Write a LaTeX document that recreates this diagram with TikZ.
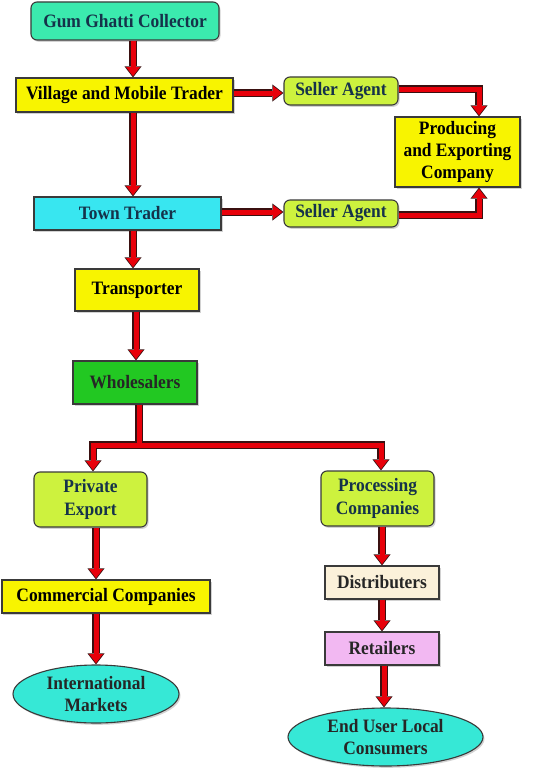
\documentclass[tikz,border=0pt]{standalone}
\usepackage{fontspec}
\setmainfont{Liberation Serif}[FakeStretch=0.92]
\usetikzlibrary{arrows.meta,shapes.geometric,shadows}
\definecolor{mint}{HTML}{3BEAAE}
\definecolor{yel}{HTML}{F8F400}
\definecolor{lime}{HTML}{CDF23E}
\definecolor{cyanbox}{HTML}{38E6F0}
\definecolor{grn}{HTML}{22C822}
\definecolor{cream}{HTML}{FBF1DA}
\definecolor{pinkbox}{HTML}{F2B8F2}
\definecolor{ellc}{HTML}{36E8D6}
\definecolor{navytext}{HTML}{15324A}
\definecolor{bordc}{HTML}{3A3A3A}
\definecolor{arrowred}{HTML}{E8000A}
\definecolor{arrowdark}{HTML}{3A1010}
\newcommand\flowarr[1]{\draw[outl] #1; \draw[inn] #1;}
\begin{document}
\begin{tikzpicture}[x=1bp,y=-1bp,
  box/.style={draw=bordc, line width=1.1bp, inner sep=0pt, align=center,
    font=\bfseries\fontsize{19}{22.5}\selectfont,
    drop shadow={opacity=0.35, shadow xshift=1.5bp, shadow yshift=-1.8bp}},
  rbox/.style={box, rounded corners=6bp},
  ellbox/.style={box, ellipse},
  outl/.style={draw=arrowdark, line width=7.2bp, line join=miter,
    -{Triangle[length=11bp,width=17bp,line width=0pt]}},
  inn/.style={draw=arrowred, line width=5bp, line join=miter, shorten >=1.3bp,
    -{Triangle[length=9bp,width=13.8bp,line width=0pt]}}]
\useasboundingbox (0,0) rectangle (536,770);
\fill[white] (0,0) rectangle (536,770);

\node[rbox, fill=mint, text=navytext, minimum width=188bp, minimum height=38bp] (gum) at (125,21) {Gum Ghatti Collector};
\node[box, fill=yel, text=black, minimum width=217bp, minimum height=34bp] (village) at (124.5,95) {Village and Mobile Trader};
\node[rbox, fill=lime, text=navytext, minimum width=114bp, minimum height=28bp] (sa1) at (341,91) {Seller Agent};
\node[box, fill=yel, text=black, minimum width=125bp, minimum height=70bp] (prod) at (457.5,152) {Producing\\and Exporting\\Company};
\node[box, fill=cyanbox, text=navytext, minimum width=187bp, minimum height=33bp] (town) at (127.5,213.5) {Town Trader};
\node[rbox, fill=lime, text=navytext, minimum width=114bp, minimum height=27bp] (sa2) at (341,213.5) {Seller Agent};
\node[box, fill=yel, text=black, minimum width=124bp, minimum height=42bp] (trans) at (137,290) {Transporter};
\node[box, fill=grn, text=black!85, minimum width=124bp, minimum height=43bp] (whole) at (135,382.5) {Wholesalers};
\node[rbox, fill=lime, text=navytext, minimum width=113bp, minimum height=55bp] (pe) at (90.5,499.5) {Private\\Export};
\node[rbox, fill=lime, text=navytext, minimum width=113bp, minimum height=55bp] (proc) at (377.5,498.5) {Processing\\Companies};
\node[box, fill=yel, text=black, minimum width=208bp, minimum height=33bp] (comm) at (106,596.5) {Commercial Companies};
\node[ellbox, fill=ellc, text=black!85, minimum width=166bp, minimum height=58bp] (intl) at (96,694) {International\\Markets};
\node[box, fill=cream, text=black!85, minimum width=114bp, minimum height=33bp] (dist) at (382,582.5) {Distributers};
\node[box, fill=pinkbox, text=black!85, minimum width=114bp, minimum height=33bp] (ret) at (382,648.5) {Retailers};
\node[ellbox, fill=ellc, text=black!85, minimum width=195bp, minimum height=58bp] (enduser) at (385.5,737) {End User Local\\Consumers};

\coordinate (c1) at (133,0);
\coordinate (c2) at (136,0);
\coordinate (c3) at (479,0);
\coordinate (j) at (139,445);
\coordinate (c8) at (93,0);
\coordinate (c9) at (381,0);
\coordinate (c10) at (96,0);
\coordinate (c11) at (382,0);
\coordinate (c12) at (384,0);
\coordinate (r1) at (0,93);
\coordinate (r2) at (0,89);
\coordinate (r3) at (0,212);
\coordinate (r4) at (0,215);

\flowarr{(gum.south -| c1) -- (village.north -| c1)}
\flowarr{(village.east |- r1) -- (sa1.west |- r1)}
\flowarr{(sa1.east |- r2) -| (prod.north -| c3)}
\flowarr{(village.south -| c1) -- (town.north -| c1)}
\flowarr{(town.east |- r3) -- (sa2.west |- r3)}
\flowarr{(sa2.east |- r4) -| (prod.south -| c3)}
\flowarr{(town.south -| c1) -- (trans.north -| c1)}
\flowarr{(trans.south -| c2) -- (whole.north -| c2)}
\draw[outl] (whole.south -| j) -- (j) -| (pe.north -| c8);
\draw[outl] (whole.south -| j) -- (j) -| (proc.north -| c9);
\draw[inn] (whole.south -| j) -- (j) -| (pe.north -| c8);
\draw[inn] (whole.south -| j) -- (j) -| (proc.north -| c9);
\flowarr{(pe.south -| c10) -- (comm.north -| c10)}
\flowarr{(comm.south -| c10) -- (intl.north -| c10)}
\flowarr{(proc.south -| c11) -- (dist.north -| c11)}
\flowarr{(dist.south -| c11) -- (ret.north -| c11)}
\flowarr{(ret.south -| c12) -- (enduser.north -| c12)}
\end{tikzpicture}
\end{document}
